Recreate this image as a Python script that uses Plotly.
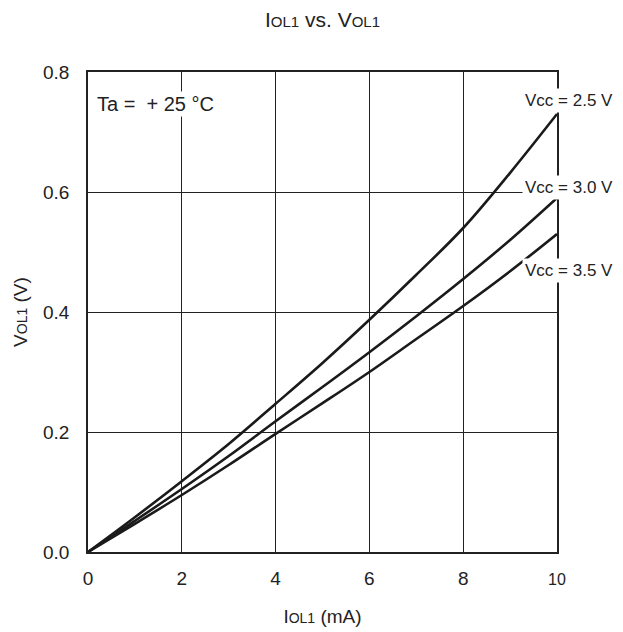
import plotly.graph_objects as go

# IOL1 (mA)
iol = [0, 1, 2, 3, 4, 5, 6, 7, 8, 9, 10]
# VOL1 (V) per supply voltage
vol_25 = [0, 0.058, 0.118, 0.18, 0.247, 0.315, 0.387, 0.462, 0.54, 0.632, 0.73]
vol_30 = [0, 0.052, 0.105, 0.16, 0.218, 0.275, 0.333, 0.393, 0.455, 0.52, 0.59]
vol_35 = [0, 0.047, 0.095, 0.145, 0.197, 0.248, 0.30, 0.355, 0.41, 0.468, 0.53]
series_names = ['Vcc = 2.5 V', 'Vcc = 3.0 V', 'Vcc = 3.5 V']
label_y = [0.753, 0.608, 0.47]

x_ticks = [0, 2, 4, 6, 8, 10]
y_ticks = [0.0, 0.2, 0.4, 0.6, 0.8]


def sub(size):
    return "<span style='font-size:%dpx'>OL1</span>" % size


fig = go.Figure()
for name, vals in zip(series_names, [vol_25, vol_30, vol_35]):
    fig.add_trace(go.Scatter(x=iol, y=vals, mode='lines', name=name,
                             line=dict(color='#1a1a1a', width=2.6, shape='spline'),
                             showlegend=False))

for name, ly in zip(series_names, label_y):
    fig.add_annotation(x=1, xref='paper', y=ly, yref='y', text=name, showarrow=False,
                       xanchor='left', xshift=-35, bgcolor='white', borderpad=2,
                       font=dict(size=17, color='#222'))

fig.add_annotation(x=0.15, y=0.747, text='Ta =  + 25 °C', showarrow=False,
                   xanchor='left', font=dict(size=20, color='#222'), bgcolor='white')

# page body adds an 8px margin, so size the figure to fit the window
fig.update_layout(
    width=615, height=624,
    margin=dict(l=80, r=66, t=64, b=80),
    paper_bgcolor='white', plot_bgcolor='white',
    font=dict(family='Liberation Sans, Arial', size=19, color='#222'),
    title=dict(text='I' + sub(15) + ' vs. V' + sub(15), x=0.5, xanchor='center',
               xref='paper', y=1 - 12 / 624, yanchor='middle', font=dict(size=21)),
)
fig.update_xaxes(range=[0, 10], tickvals=x_ticks,
                 ticktext=['0', '2', '4', '6', '8', "<span style='font-size:16px'>10</span>"],
                 showgrid=True, gridcolor='#222', gridwidth=1,
                 showline=True, linecolor='#222', linewidth=1.5, mirror=True,
                 ticks='', zeroline=False, ticklabelstandoff=8, automargin=False,
                 title=dict(text='I' + sub(14) + ' (mA)', standoff=22, font=dict(size=19)))
fig.update_yaxes(range=[0, 0.8], tickvals=y_ticks, tickformat='.1f',
                 showgrid=True, gridcolor='#222', gridwidth=1,
                 showline=True, linecolor='#222', linewidth=1.5, mirror=True,
                 ticks='', zeroline=False, ticklabelstandoff=13, automargin=False,
                 title=dict(text='V' + sub(14) + ' (V)', standoff=10, font=dict(size=19)))

fig.write_html("out.html")
